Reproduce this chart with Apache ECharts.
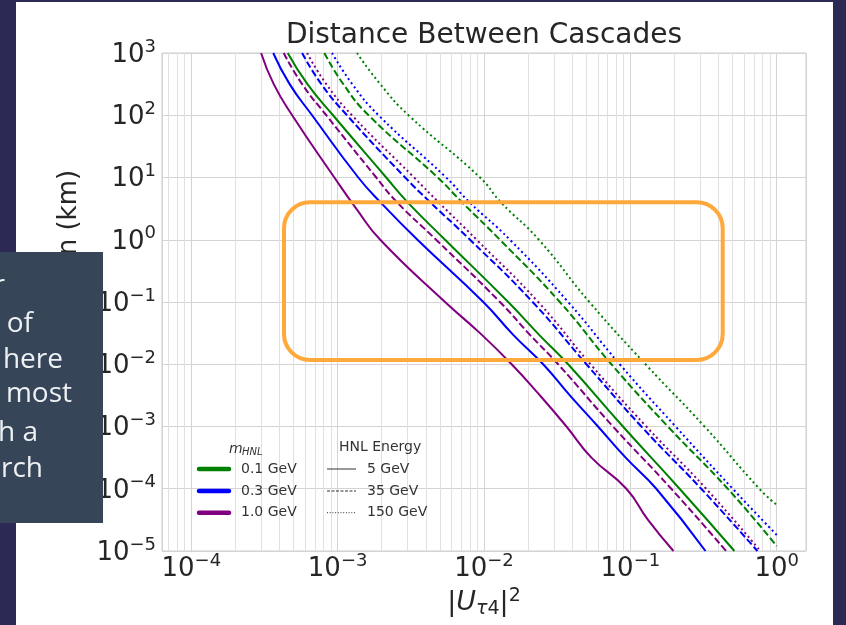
<!DOCTYPE html>
<html><head><meta charset="utf-8">
<script src="https://cdn.jsdelivr.net/npm/echarts@6/dist/echarts.min.js"></script>
<style>html,body{margin:0;padding:0;background:#fff}#c{width:846px;height:625px}</style>
</head><body><div id="c"></div>
<script>
const FONT = '"DejaVu Sans", sans-serif';
const TXT = '#262626';

// Each curve: [ |U_tau4|^2 , distance (km) ]
// m = 1.0 GeV (purple)
const purple5 = [[3.0e-4,1000],[3.66e-4,316],[4.89e-4,100],[9.5e-4,10],[1.34e-3,3.16],[1.955e-3,1],[5.42e-3,0.1],[9.39e-3,0.0316],[0.01545,0.01],[0.0241,3.16e-3],[0.0366,1e-3],[0.0542,3.16e-4],[0.0939,1e-4],[0.132,3.16e-5],[0.197,1e-5]];
const purple35 = [[4.28e-4,1000],[5.72e-4,316],[8.37e-4,100],[1.836e-3,10],[2.54e-3,4.03],[4.71e-3,1],[0.01285,0.1],[0.0206,0.0297],[0.0321,0.01],[0.0761,1e-3],[0.1903,1e-4],[0.451,1e-5]];
const purple150 = [[6.19e-4,1000],[8.37e-4,316],[1.253e-3,100],[3.33e-3,10],[4.88e-3,4.03],[8.91e-3,1],[0.02346,0.1],[0.0534,0.01],[0.1285,1e-3],[0.3297,1e-4],[0.773,1e-5]];
// m = 0.3 GeV (blue)
const blue5 = [[3.63e-4,1000],[4.70e-4,316],[6.69e-4,100],[1.384e-3,10],[1.955e-3,4.03],[3.51e-3,1],[9.89e-3,0.1],[0.01584,0.0297],[0.02536,0.01],[0.0386,3.16e-3],[0.0601,1e-3],[0.0929,3.16e-4],[0.1504,1e-4],[0.326,1e-5]];
const blue35 = [[5.72e-4,1000],[7.74e-4,316],[1.159e-3,100],[2.893e-3,10],[4.28e-3,4.03],[8.03e-3,1],[0.02148,0.1],[0.0501,0.01],[0.1189,1e-3],[0.3048,1e-4],[0.738,1e-5]];
const blue150 = [[9.16e-4,1000],[1.259e-3,316],[1.903e-3,100],[5.51e-3,10],[7.94e-3,4.03],[0.01504,1],[0.03756,0.1],[0.0846,0.01],[0.2036,1e-3],[0.5005,1e-4],[1.0,1.81e-5]];
// m = 0.1 GeV (green)
const green5 = [[4.56e-4,1000],[6.22e-4,316],[9.30e-4,100],[2.148e-3,10],[3.00e-3,4.03],[5.42e-3,1],[0.01464,0.1],[0.02382,0.0297],[0.03756,0.01],[0.0890,1e-3],[0.2169,1e-4],[0.514,1e-5]];
const green35 = [[8.11e-4,1000],[1.094e-3,316],[1.627e-3,100],[4.83e-3,10],[7.05e-3,4.03],[0.01285,1],[0.03296,0.1],[0.0742,0.01],[0.1804,1e-3],[0.4627,1e-4],[1.0,1.2e-5]];
const green150 = [[1.356e-3,1000],[1.955e-3,316],[3.05e-3,100],[9.39e-3,10],[0.0130,4.03],[0.0237,1],[0.0525,0.1],[0.127,0.01],[0.321,1e-3],[0.761,1e-4],[1.0,5.5e-5]];

const massLabels = ['0.1 GeV', '0.3 GeV', '1.0 GeV'];
const energyLabels = ['5 GeV', '35 GeV', '150 GeV'];
const xRange = [6.31e-5, 1.585];
const yRange = [1e-5, 1e3];
const minorMultipliers = [2, 3, 4, 5, 6, 7, 8, 9];
const minorDecades = [1e-5, 1e-4, 1e-3, 1e-2, 1e-1];

const GREEN = '#008000', BLUE = '#0000ff', PURPLE = '#800080';
const DASHED = [7, 3], DOTTED = [2, 3];

const curves = [
  {name: '0.1 GeV, 5 GeV', data: green5, color: GREEN, type: 'solid'},
  {name: '0.1 GeV, 35 GeV', data: green35, color: GREEN, type: DASHED},
  {name: '0.1 GeV, 150 GeV', data: green150, color: GREEN, type: DOTTED},
  {name: '0.3 GeV, 5 GeV', data: blue5, color: BLUE, type: 'solid'},
  {name: '0.3 GeV, 35 GeV', data: blue35, color: BLUE, type: DASHED},
  {name: '0.3 GeV, 150 GeV', data: blue150, color: BLUE, type: DOTTED},
  {name: '1.0 GeV, 5 GeV', data: purple5, color: PURPLE, type: 'solid'},
  {name: '1.0 GeV, 35 GeV', data: purple35, color: PURPLE, type: DASHED},
  {name: '1.0 GeV, 150 GeV', data: purple150, color: PURPLE, type: DOTTED}
];

const minorVals = [];
minorDecades.forEach(d => minorMultipliers.forEach(m => {
  const v = d * m;
  if (v > xRange[0] && v < xRange[1]) minorVals.push(v);
}));

function powLabel(v) {
  const e = Math.log10(v);
  const r = Math.round(e);
  if (Math.abs(e - r) > 1e-6) return '';
  const s = r < 0 ? '\u2212' + (-r) : String(r);
  return '{b|10}{s|' + s + '}';
}
const tickRich = {
  b: {fontSize: 26, lineHeight: 30, verticalAlign: 'bottom', fontFamily: FONT, color: TXT},
  s: {fontSize: 18, lineHeight: 18, verticalAlign: 'top', fontFamily: FONT, color: TXT}
};

const series = [{
  type: 'lines', coordinateSystem: 'cartesian2d', z: 1, silent: true, polyline: false,
  lineStyle: {color: '#e0e0e0', width: 1, opacity: 1, type: 'solid'},
  emphasis: {disabled: true},
  data: minorVals.map(v => ({coords: [[v, yRange[0]], [v, yRange[1]]]}))
}];
curves.forEach(c => series.push({
  name: c.name, type: 'line', data: c.data, showSymbol: false, symbol: 'none',
  smooth: 0.5, z: 3, clip: true,
  lineStyle: {color: c.color, width: 2, type: c.type},
  itemStyle: {color: c.color}
}));

// legend (drawn as graphic)
const legendGraphics = [];
const legColors = [GREEN, BLUE, PURPLE];
const legTypes = [null, [3, 1.5], [1, 1.7]];
const rowsY = [469, 491, 512.7];
legendGraphics.push({type: 'text', x: 229, y: 449, z: 20, style: {text: 'm', font: 'italic 14px ' + FONT, fill: '#333', textVerticalAlign: 'middle'}});
legendGraphics.push({type: 'text', x: 242, y: 452, z: 20, style: {text: 'HNL', font: 'italic 10px ' + FONT, fill: '#333', textVerticalAlign: 'middle'}});
legendGraphics.push({type: 'text', x: 339, y: 447, z: 20, style: {text: 'HNL Energy', font: '14px ' + FONT, fill: '#333', textVerticalAlign: 'middle'}});
rowsY.forEach((y, i) => {
  legendGraphics.push({type: 'line', z: 20, shape: {x1: 199, y1: y, x2: 229, y2: y}, style: {stroke: legColors[i], lineWidth: 4.5, lineCap: 'round'}});
  legendGraphics.push({type: 'text', x: 241, y: y, z: 20, style: {text: massLabels[i], font: '14px ' + FONT, fill: '#333', textVerticalAlign: 'middle'}});
  legendGraphics.push({type: 'line', z: 20, shape: {x1: 327, y1: y, x2: 356, y2: y}, style: {stroke: '#333', lineWidth: 1, lineDash: legTypes[i]}});
  legendGraphics.push({type: 'text', x: 367, y: y, z: 20, style: {text: energyLabels[i], font: '14px ' + FONT, fill: '#333', textVerticalAlign: 'middle'}});
});

// slide overlay text (cut off at the left edge)
const noteLines = [
  ['Highlighted: the separation regime for', 5, 286],
  ['double-bang events, as a function of', 33, 324],
  ['mass and mixing, is the region  here', 63, 360],
  ['cascades are resolvable in  most', 72, 394],
  ['background-free, making it a target with a', 38, 433],
  ['for a dedicated search', 43, 469]
];
const noteGraphics = noteLines.map(l => ({
  type: 'text', x: l[1], y: l[2], z: 31,
  style: {text: l[0], font: '28px "Open Sans", sans-serif', fill: '#eef1f4', textAlign: 'right', textVerticalAlign: 'middle'}
}));

const SLIDE = '#2c2a55';
const graphics = [
  {type: 'rect', z: 30, shape: {x: 0, y: 0, width: 16, height: 625}, style: {fill: SLIDE}},
  {type: 'rect', z: 30, shape: {x: 0, y: 0, width: 846, height: 2}, style: {fill: SLIDE}},
  {type: 'rect', z: 30, shape: {x: 833, y: 0, width: 13, height: 625}, style: {fill: SLIDE}},
  {type: 'text', x: 484, y: 36, z: 20, style: {text: 'Distance Between Cascades', font: '28px ' + FONT, fill: TXT, textAlign: 'center', textVerticalAlign: 'middle'}},
  {type: 'rect', z: 25, shape: {x: 284, y: 202.3, width: 438.7, height: 157.7, r: 26}, style: {fill: 'none', stroke: '#ffa83c', lineWidth: 4}},
  {type: 'rect', z: 30, shape: {x: 0, y: 252, width: 103, height: 271}, style: {fill: '#374559'}}
].concat(legendGraphics, noteGraphics);

const chart = echarts.init(document.getElementById('c'), null, {renderer: 'canvas'});
chart.setOption({
  animation: false,
  backgroundColor: '#ffffff',
  grid: {left: 162, right: 40, top: 53, bottom: 74, show: true, borderColor: '#cccccc', borderWidth: 1, containLabel: false, outerBoundsMode: 'none'},
  xAxis: {
    type: 'log', logBase: 10, min: xRange[0], max: xRange[1],
    axisLine: {show: false}, axisTick: {show: false},
    splitLine: {show: true, lineStyle: {color: '#d4d4d4', width: 1}},
    axisLabel: {formatter: powLabel, rich: tickRich, margin: 1, showMinLabel: false, showMaxLabel: false, hideOverlap: false},
    name: '{n||}{u|U}{t|\u03c4}{f|4}{n||}{p|2}',
    nameLocation: 'middle', nameGap: 33,
    nameTextStyle: {
      rich: {
        n: {fontSize: 27, lineHeight: 32, fontFamily: FONT, color: TXT},
        u: {fontSize: 27, lineHeight: 32, fontStyle: 'italic', fontFamily: FONT, color: TXT},
        t: {fontSize: 19, lineHeight: 18, verticalAlign: 'bottom', fontStyle: 'italic', fontFamily: FONT, color: TXT},
        f: {fontSize: 19, lineHeight: 18, verticalAlign: 'bottom', fontFamily: FONT, color: TXT},
        p: {fontSize: 19, lineHeight: 16, verticalAlign: 'top', fontFamily: FONT, color: TXT}
      }
    }
  },
  yAxis: {
    type: 'log', logBase: 10, min: yRange[0], max: yRange[1],
    axisLine: {show: false}, axisTick: {show: false},
    splitLine: {show: true, lineStyle: {color: '#d4d4d4', width: 1}},
    axisLabel: {formatter: powLabel, rich: tickRich, margin: 6, hideOverlap: false},
    name: 'Separation (km)', nameLocation: 'middle', nameGap: 80,
    nameTextStyle: {fontSize: 26, fontFamily: FONT, color: TXT, padding: [0, 0, 0, 54]}
  },
  series: series,
  graphic: {elements: graphics}
});
</script></body></html>
